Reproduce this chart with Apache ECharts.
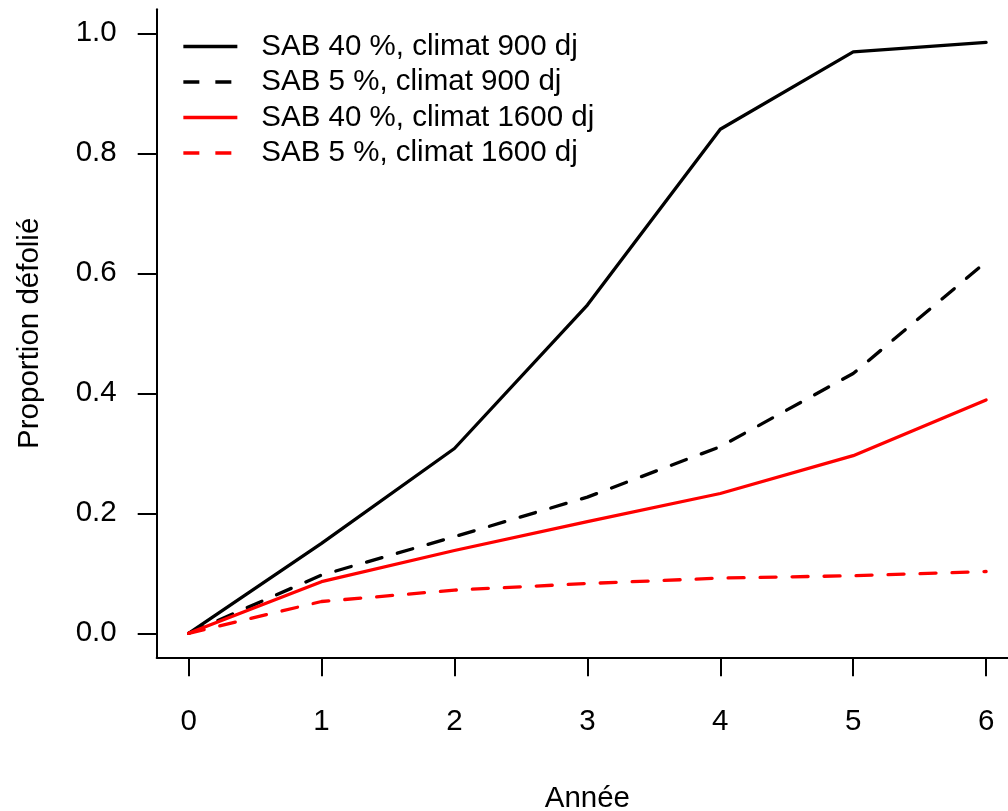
<!DOCTYPE html>
<html>
<head>
<meta charset="utf-8">
<script src="https://cdn.jsdelivr.net/npm/echarts@6/dist/echarts.min.js"></script>
<style>
html,body{margin:0;padding:0;background:#fff;}
#chart{width:1008px;height:811px;}
</style>
</head>
<body>
<div id="chart"></div>
<script>
const years = [0, 1, 2, 3, 4, 5, 6];
const sab40_900 = [0, 0.150, 0.308, 0.547, 0.840, 0.969, 0.985];
const sab5_900 = [0, 0.097, 0.161, 0.227, 0.311, 0.433, 0.619];
const sab40_1600 = [0, 0.086, 0.138, 0.186, 0.233, 0.296, 0.389];
const sab5_1600 = [0, 0.053, 0.072, 0.083, 0.092, 0.096, 0.103];
const seriesNames = ['SAB 40 %, climat 900 dj', 'SAB 5 %, climat 900 dj', 'SAB 40 %, climat 1600 dj', 'SAB 5 %, climat 1600 dj'];
const xTicks = [0, 1, 2, 3, 4, 5, 6];
const yTicks = [0, 0.2, 0.4, 0.6, 0.8, 1.0];

const FONT = '"Liberation Sans", Arial, sans-serif';
const FS = 29.5;
const LW = 3.3;

function pairs(vals) { return years.map((x, i) => [x, vals[i]]); }
function mk(name, vals, color, dashed) {
  return {
    name: name, type: 'line', data: pairs(vals), symbol: 'none',
    lineStyle: { color: color, width: LW, type: dashed ? [16, 16] : 'solid', cap: 'round', join: 'round' },
    itemStyle: { color: color },
    emphasis: { disabled: true }, animation: false
  };
}

const chart = echarts.init(document.getElementById('chart'), null, { renderer: 'canvas' });
chart.setOption({
  backgroundColor: '#fff',
  animation: false,
  grid: { left: 156.7, top: 9.3, width: 861.3, height: 648, outerBoundsMode: 'none', containLabel: false },
  legend: {
    orient: 'vertical', left: 181.7, top: 31.5, padding: 0,
    itemWidth: 54, itemHeight: 14, itemGap: 5.5,
    data: seriesNames,
    itemStyle: { opacity: 0 },
    lineStyle: { width: LW, type: 'inherit', cap: 'butt' },
    textStyle: { fontFamily: FONT, fontSize: FS, color: '#000', lineHeight: 29, padding: [0, 0, 0, 19] }
  },
  xAxis: {
    type: 'value', min: -0.24, max: 6.24,
    name: 'Année', nameLocation: 'middle', nameGap: 127,
    nameTextStyle: { fontFamily: FONT, fontSize: FS, color: '#000' },
    axisLine: { show: true, onZero: false, lineStyle: { color: '#000', width: 2 } },
    axisTick: { show: true, length: 19, customValues: xTicks, lineStyle: { color: '#000', width: 2 } },
    axisLabel: { customValues: xTicks, margin: 50, fontFamily: FONT, fontSize: FS, color: '#000' },
    splitLine: { show: false }
  },
  yAxis: {
    type: 'value', min: -0.04, max: 1.04,
    name: 'Proportion défolié', nameLocation: 'middle', nameGap: 112, nameRotate: 90,
    nameTextStyle: { fontFamily: FONT, fontSize: FS, color: '#000' },
    axisLine: { show: true, onZero: false, lineStyle: { color: '#000', width: 2 } },
    axisTick: { show: true, length: 19, customValues: yTicks, lineStyle: { color: '#000', width: 2 } },
    axisLabel: { customValues: yTicks, margin: 40, fontFamily: FONT, fontSize: FS, color: '#000',
      formatter: v => v.toFixed(1) },
    splitLine: { show: false }
  },
  series: [
    mk(seriesNames[0], sab40_900, '#000000', false),
    mk(seriesNames[1], sab5_900, '#000000', true),
    mk(seriesNames[2], sab40_1600, '#ff0000', false),
    mk(seriesNames[3], sab5_1600, '#ff0000', true)
  ]
});
</script>
</body>
</html>
